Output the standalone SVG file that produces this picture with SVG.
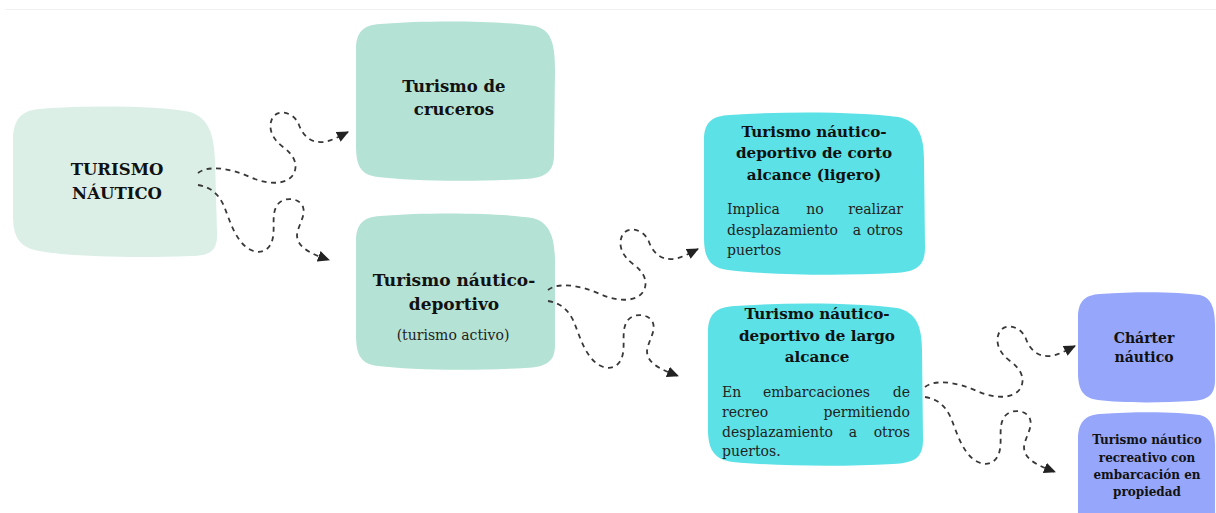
<svg xmlns="http://www.w3.org/2000/svg" width="1216" height="513" viewBox="0 0 1216 513">
<style>
.t{font-family:"DejaVu Serif","Liberation Serif",serif;font-weight:bold;fill:#111;text-anchor:middle}
.b{font-family:"DejaVu Serif","Liberation Serif",serif;font-size:14px;fill:#222}
.c{fill:none;stroke:#383838;stroke-width:1.8;stroke-dasharray:5 4.5;marker-end:url(#ah)}
.mint1{fill:#dbefe7}.mint2{fill:#b4e2d4}.cyan{fill:#5ce1e6}.peri{fill:#96a6fb}
</style>
<defs>
<marker id="ah" markerUnits="userSpaceOnUse" markerWidth="12" markerHeight="11" viewBox="0 0 12 11" refX="11" refY="5.5" orient="auto">
<path d="M0,0 L12,5.5 L0,11 Z" fill="#222"/>
</marker>
</defs>
<rect width="1216" height="513" fill="#fff"/>
<line x1="5" y1="9.5" x2="1216" y2="9.5" stroke="#f1f1f1" stroke-width="1"/>

<g id="turismo-nautico">
<path class="mint1" d="M40,109 C90,105 160,106 190,112 C209,118 214,135 215,160 L217,232 C218,250 211,256 190,256 C140,258 80,257 45,252 C21,249 13,240 13,215 L13,140 C13,119 22,110 40,109 Z"/>
<text class="t" font-size="16.5" x="117" y="175">TURISMO</text>
<text class="t" font-size="16.5" x="117" y="199">NÁUTICO</text>
</g>

<g id="cruceros">
<path class="mint2" d="M380,24 C430,20 500,21 535,26 C552,30 555,45 555,70 L554,155 C554,172 545,178 525,179 C470,182 410,181 378,177 C360,175 356,165 356,145 L356,50 C356,32 363,25 380,24 Z"/>
<text class="t" font-size="16.5" x="454" y="92">Turismo de</text>
<text class="t" font-size="16.5" x="454" y="115">cruceros</text>
</g>

<g id="nautico-deportivo">
<path class="mint2" d="M380,216 C430,212 500,213 532,218 C550,222 555,238 555,262 L555,345 C555,362 546,367 525,368 C470,371 410,370 378,366 C360,364 356,354 356,334 L356,242 C356,224 363,217 380,216 Z"/>
<text class="t" font-size="17" x="454" y="286">Turismo náutico-</text>
<text class="t" font-size="17" x="454" y="310">deportivo</text>
<text class="b" x="453" y="340" text-anchor="middle">(turismo activo)</text>
</g>

<g id="corto-alcance">
<path class="cyan" d="M730,115 C790,111 860,112 898,117 C918,121 924,135 924,160 L925,248 C925,266 916,272 895,273 C840,276 770,275 728,270 C710,268 704,258 704,238 L704,140 C704,122 712,116 730,115 Z"/>
<text class="t" font-size="15.2" x="814" y="137">Turismo náutico-</text>
<text class="t" font-size="15.2" x="814" y="158">deportivo de corto</text>
<text class="t" font-size="15.2" x="814" y="180">alcance (ligero)</text>
<text class="b" y="214"><tspan x="727">Implica</tspan><tspan x="815" text-anchor="middle">no</tspan><tspan x="903" text-anchor="end">realizar</tspan></text>
<text class="b" y="235"><tspan x="727">desplazamiento</tspan><tspan x="857" text-anchor="middle">a</tspan><tspan x="903" text-anchor="end">otros</tspan></text>
<text class="b" x="727" y="255">puertos</text>
</g>

<g id="largo-alcance">
<path class="cyan" d="M735,306 C790,302 860,303 897,308 C916,312 922,326 922,350 L923,440 C923,458 914,463 893,464 C840,467 775,466 733,462 C715,460 708,450 708,430 L708,332 C708,314 716,307 735,306 Z"/>
<text class="t" font-size="15.2" x="817" y="319">Turismo náutico-</text>
<text class="t" font-size="15.2" x="817" y="341">deportivo de largo</text>
<text class="t" font-size="15.2" x="817" y="362">alcance</text>
<text class="b" y="397"><tspan x="722">En</tspan><tspan x="763">embarcaciones</tspan><tspan x="910" text-anchor="end">de</tspan></text>
<text class="b" y="417"><tspan x="722">recreo</tspan><tspan x="910" text-anchor="end">permitiendo</tspan></text>
<text class="b" y="437"><tspan x="722">desplazamiento</tspan><tspan x="853" text-anchor="middle">a</tspan><tspan x="910" text-anchor="end">otros</tspan></text>
<text class="b" x="722" y="456">puertos.</text>
</g>

<g id="charter">
<path class="peri" d="M1100,294 C1140,291 1180,292 1200,295 C1212,298 1215,310 1215,325 L1215,380 C1215,395 1208,400 1192,401 C1160,403 1120,403 1098,400 C1083,398 1078,390 1078,372 L1078,318 C1078,301 1085,295 1100,294 Z"/>
<text class="t" font-size="14" x="1144" y="343">Chárter</text>
<text class="t" font-size="14" x="1144" y="362">náutico</text>
</g>

<g id="recreativo">
<path class="peri" d="M1100,414 C1140,411 1180,412 1200,415 C1212,418 1215,430 1215,445 L1215,520 L1078,520 L1078,440 C1078,422 1085,415 1100,414 Z"/>
<text class="t" font-size="12" x="1147" y="444">Turismo náutico</text>
<text class="t" font-size="12" x="1147" y="462">recreativo con</text>
<text class="t" font-size="12" x="1147" y="479">embarcación en</text>
<text class="t" font-size="12" x="1147" y="496">propiedad</text>
</g>

<g id="connectors">
<g transform="translate(198,173)">
<path class="c" d="M0,0 C10,-8 32,-5 52,4 C70,12 88,12 95,2 C101,-8 96,-18 85,-26 C74,-34 69,-46 75,-56 C81,-64 96,-61 101,-48 C105,-37 113,-30 125,-31 C134,-32 142,-37 150,-41"/>
<path class="c" d="M0,12 C12,14 20,20 26,33 C32,48 38,70 53,77 C63,82 73,77 75,64 C77,52 73,40 80,31 C86,24 101,24 105,34 C108,43 100,52 99,62 C99,72 108,78 120,83 L131,87"/>
</g>
<g transform="translate(548,290)">
<path class="c" d="M0,0 C10,-8 32,-5 52,4 C70,12 88,12 95,2 C101,-8 96,-18 85,-26 C74,-34 69,-46 75,-56 C81,-64 96,-61 101,-48 C105,-37 113,-30 125,-31 C134,-32 142,-37 150,-41"/>
<path class="c" d="M0,11 C12,13 20,19 26,32 C32,47 38,69 53,76 C63,81 73,76 75,63 C77,51 73,39 80,30 C86,23 101,23 105,33 C108,42 100,51 99,61 C99,71 108,77 120,82 L130,86"/>
</g>
<g transform="translate(925,387)">
<path class="c" d="M0,0 C10,-8 32,-5 52,4 C70,12 88,12 95,2 C101,-8 96,-18 85,-26 C74,-34 69,-46 75,-56 C81,-64 96,-61 101,-48 C105,-37 113,-30 125,-31 C134,-32 142,-37 150,-41"/>
<path class="c" d="M0,10 C12,12 20,18 26,31 C32,46 38,68 53,75 C63,80 73,75 75,62 C77,50 73,38 80,29 C86,22 101,22 105,32 C108,41 100,50 99,60 C99,70 108,76 120,81 L130,85"/>
</g>
</g>
</svg>
